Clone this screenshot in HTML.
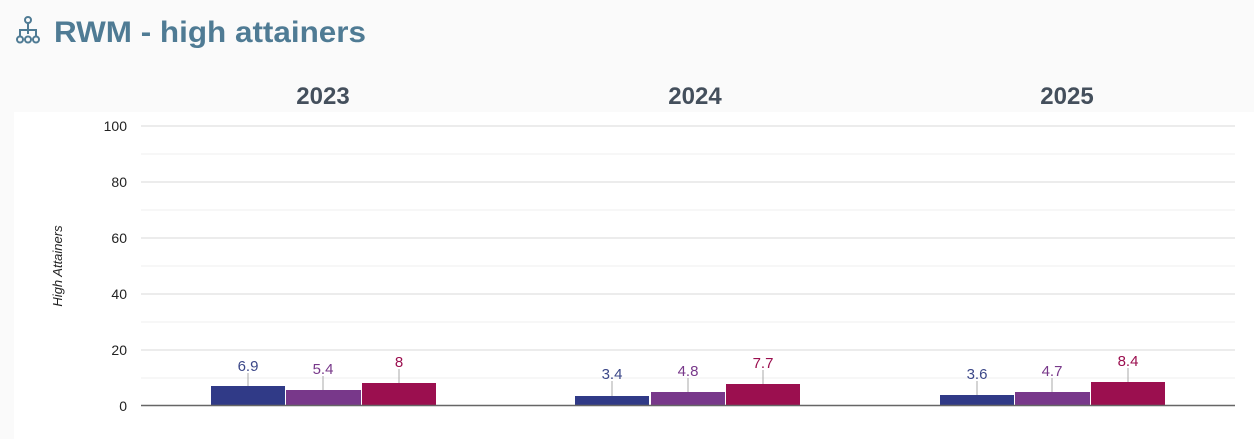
<!DOCTYPE html><html><head><style>body{margin:0;background:#fff;width:1254px;height:439px;overflow:hidden;font-family:"Liberation Sans",sans-serif}</style></head><body>
<svg width="1254" height="439" xmlns="http://www.w3.org/2000/svg" font-family="Liberation Sans, sans-serif">
<rect x="0" y="0" width="1254" height="439" fill="#fafafa"/>
<rect x="14" y="112" width="1240" height="327" fill="#fff"/>
<g stroke="#4f7b94" stroke-width="2" fill="none">
<circle cx="28" cy="20" r="3"/><line x1="28" y1="23" x2="28" y2="34"/><path d="M20 37 V30 H36 V37"/>
<circle cx="20" cy="39.5" r="3"/><circle cx="28" cy="39.5" r="3"/><circle cx="36" cy="39.5" r="3"/></g>
<text x="54" y="42" font-size="30" font-weight="bold" fill="#4f7b94" textLength="312" lengthAdjust="spacingAndGlyphs">RWM - high attainers</text>
<g font-size="24" font-weight="bold" fill="#444f5c" text-anchor="middle"><text x="323" y="104">2023</text><text x="695" y="104">2024</text><text x="1067" y="104">2025</text></g>
<g stroke="#efefef"><line x1="141" x2="1235" y1="154" y2="154"/><line x1="141" x2="1235" y1="210" y2="210"/><line x1="141" x2="1235" y1="266" y2="266"/><line x1="141" x2="1235" y1="322" y2="322"/><line x1="141" x2="1235" y1="378" y2="378"/></g>
<g stroke="#d8d8d8"><line x1="141" x2="1235" y1="126" y2="126"/><line x1="141" x2="1235" y1="182" y2="182"/><line x1="141" x2="1235" y1="238" y2="238"/><line x1="141" x2="1235" y1="294" y2="294"/><line x1="141" x2="1235" y1="350" y2="350"/></g>
<g font-size="14" fill="#222" text-anchor="end"><text x="127" y="131">100</text><text x="127" y="187">80</text><text x="127" y="243">60</text><text x="127" y="299">40</text><text x="127" y="355">20</text><text x="127" y="411">0</text></g>
<text transform="translate(62,266) rotate(-90)" font-size="13" font-style="italic" fill="#222" text-anchor="middle">High Attainers</text>
<g stroke="#aaa">
<line x1="248" x2="248" y1="373" y2="386"/><line x1="323" x2="323" y1="376" y2="390"/><line x1="399" x2="399" y1="369" y2="383"/>
<line x1="612" x2="612" y1="381" y2="396"/><line x1="688" x2="688" y1="378" y2="392"/><line x1="763" x2="763" y1="370" y2="384"/>
<line x1="977" x2="977" y1="381" y2="395"/><line x1="1052" x2="1052" y1="378" y2="392"/><line x1="1128" x2="1128" y1="368" y2="382"/></g>
<g>
<rect x="211" y="386" width="74" height="19" fill="#303a87"/><rect x="286" y="390" width="75" height="15" fill="#78388a"/><rect x="362" y="383" width="74" height="22" fill="#9b0f4f"/>
<rect x="575" y="396" width="74" height="9" fill="#303a87"/><rect x="651" y="392" width="74" height="13" fill="#78388a"/><rect x="726" y="384" width="74" height="21" fill="#9b0f4f"/>
<rect x="940" y="395" width="74" height="10" fill="#303a87"/><rect x="1015" y="392" width="75" height="13" fill="#78388a"/><rect x="1091" y="382" width="74" height="23" fill="#9b0f4f"/></g>
<line x1="141" x2="1235" y1="405.5" y2="405.5" stroke="#666" stroke-width="1.5"/>
<g font-size="15" text-anchor="middle">
<text x="248" y="371" fill="#3b4788">6.9</text><text x="323" y="374" fill="#78388a">5.4</text><text x="399" y="367" fill="#9b0f4f">8</text>
<text x="612" y="379" fill="#3b4788">3.4</text><text x="688" y="376" fill="#78388a">4.8</text><text x="763" y="368" fill="#9b0f4f">7.7</text>
<text x="977" y="379" fill="#3b4788">3.6</text><text x="1052" y="376" fill="#78388a">4.7</text><text x="1128" y="366" fill="#9b0f4f">8.4</text></g>
</svg></body></html>
